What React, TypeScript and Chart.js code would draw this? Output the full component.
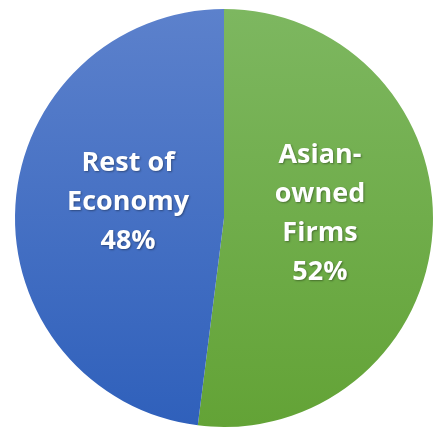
import React, { useEffect, useRef } from "react";
import { Chart, registerables } from "chart.js";

Chart.register(...registerables);

const categories = ["Asian-owned Firms", "Rest of Economy"];
const values = [52, 48];
const labelLines = [["Asian-", "owned", "Firms", "52%"], ["Rest of", "Economy", "48%"]];

export default function App() {
  const ref = useRef<HTMLCanvasElement | null>(null);
  useEffect(() => {
    const canvas = ref.current!;
    const ctx = canvas.getContext("2d")!;
    const gGreen = ctx.createLinearGradient(0, 9, 0, 427);
    gGreen.addColorStop(0, "#7db760");
    gGreen.addColorStop(1, "#63a336");
    const gBlue = ctx.createLinearGradient(0, 9, 0, 427);
    gBlue.addColorStop(0, "#5c81cc");
    gBlue.addColorStop(1, "#2f60bb");

    const labelPlugin = {
      id: "sliceLabels",
      afterDatasetsDraw(chart: any) {
        const meta = chart.getDatasetMeta(0);
        const c = chart.ctx;
        c.save();
        c.font = "bold 27px 'Open Sans', sans-serif";
        c.fillStyle = "#ffffff";
        c.textAlign = "center";
        c.textBaseline = "middle";
        c.shadowColor = "rgba(0,0,0,0.35)";
        c.shadowBlur = 2;
        c.shadowOffsetX = 1;
        c.shadowOffsetY = 1;
        meta.data.forEach((arc: any, i: number) => {
          const p = arc.getProps(["x", "y", "startAngle", "endAngle", "outerRadius"], true);
          const mid = (p.startAngle + p.endAngle) / 2;
          const r = p.outerRadius * 0.46;
          const cx = p.x + Math.cos(mid) * r;
          const cy = p.y + Math.sin(mid) * r - 10;
          const lines = labelLines[i];
          const lh = 39;
          const top = cy - ((lines.length - 1) * lh) / 2;
          lines.forEach((t, j) => c.fillText(t, cx, top + j * lh));
        });
        c.restore();
      },
    };

    const chart = new Chart(canvas, {
      type: "pie",
      data: {
        labels: categories,
        datasets: [
          {
            data: values,
            backgroundColor: [gGreen, gBlue],
            borderWidth: 0,
          },
        ],
      },
      options: {
        responsive: false,
        animation: false,
        layout: { padding: { left: 15, right: 0, top: 9, bottom: 3 } },
        plugins: { legend: { display: false }, tooltip: { enabled: false } },
      },
      plugins: [labelPlugin],
    });
    return () => chart.destroy();
  }, []);
  return (
    <div style={{ position: "fixed", left: 0, top: 0, width: 433, height: 430, background: "#fff" }}>
      <canvas ref={ref} width={433} height={430} />
    </div>
  );
}
